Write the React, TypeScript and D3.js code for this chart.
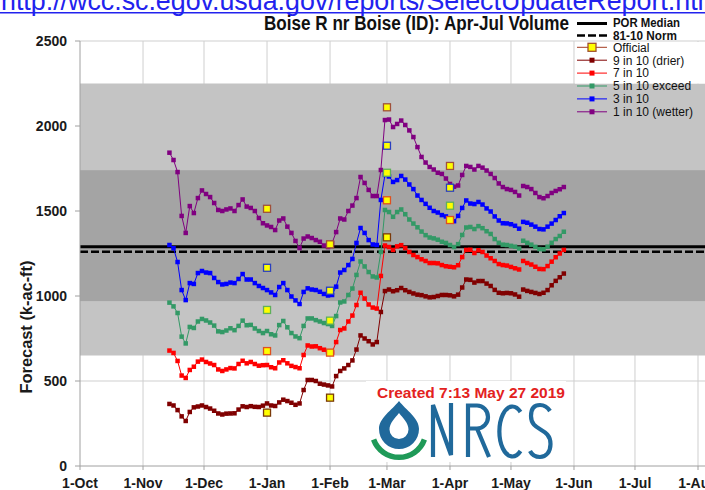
import React from "react"
import * as d3 from "d3"

const W = 705
const H = 490

// axis ticks
const yTicks = [0, 500, 1000, 1500, 2000, 2500]
const monthStarts = d3.timeMonth.range(new Date(2018, 9, 1), new Date(2019, 7, 2))

// shaded ranges and reference lines (k-ac-ft)
const outerBand = [650, 2250]
const innerBand = [970, 1740]
const porMedian = 1290
const norm8110 = 1260

const forecastDates = d3.timeDay.range(new Date(2018, 10, 14), new Date(2019, 4, 28), 2)
// the lines are broken between 5 and 7 May
const gapDate = new Date(2019, 4, 6)

const drier = [
  365, 356, 329, 292, 265, 318, 345, 350, 356, 347,
  338, 325, 309, 303, 308, 309, 310, 332, 351, 347,
  352, 348, 347, 355, 368, 356, 353, 374, 390, 382,
  372, 360, 368, 447, 506, 506, 500, 484, 479, 474,
  468, 529, 559, 574, 594, 621, 685, 768, 750, 734,
  715, 729, 906, 1029, 1038, 1028, 1034, 1047, 1034, 1024,
  1015, 1008, 1005, 998, 992, 994, 1000, 1006, 1006, 1004,
  998, 1008, 1050, 1097, 1095, 1079, 1088, 1088, 1073, 1059,
  1036, 1019, 1016, 1018, 1016, 1009, 996, 1038, 1030, 1024,
  1018, 1012, 1019, 1035, 1063, 1089, 1110, 1132,
]
const seven = [
  679, 665, 618, 532, 518, 565, 584, 614, 626, 612,
  603, 594, 568, 559, 568, 576, 574, 600, 619, 604,
  612, 600, 590, 593, 594, 581, 575, 609, 622, 604,
  589, 582, 575, 653, 709, 703, 704, 693, 684, 674,
  668, 729, 800, 809, 850, 885, 947, 1019, 985, 950,
  932, 926, 1118, 1297, 1288, 1271, 1292, 1299, 1282, 1259,
  1241, 1229, 1216, 1206, 1194, 1194, 1192, 1182, 1175, 1172,
  1169, 1181, 1229, 1271, 1272, 1253, 1269, 1259, 1238, 1222,
  1206, 1188, 1182, 1179, 1171, 1163, 1156, 1206, 1194, 1185,
  1172, 1159, 1158, 1176, 1202, 1228, 1250, 1271,
]
const five = [
  961, 939, 900, 761, 721, 818, 812, 850, 865, 856,
  844, 826, 792, 788, 797, 810, 799, 824, 855, 828,
  830, 809, 794, 782, 794, 775, 768, 829, 853, 816,
  782, 762, 752, 824, 868, 868, 858, 850, 841, 835,
  824, 882, 962, 968, 1006, 1044, 1124, 1203, 1174, 1141,
  1115, 1109, 1259, 1506, 1494, 1466, 1494, 1509, 1481, 1450,
  1426, 1404, 1379, 1358, 1344, 1339, 1331, 1319, 1312, 1300,
  1288, 1305, 1359, 1403, 1406, 1394, 1411, 1399, 1381, 1365,
  1335, 1313, 1302, 1300, 1295, 1290, 1279, 1325, 1313, 1302,
  1289, 1276, 1275, 1290, 1313, 1335, 1353, 1378,
]
const three = [
  1300, 1281, 1200, 1035, 976, 1076, 1071, 1135, 1147, 1138,
  1135, 1106, 1082, 1068, 1071, 1079, 1076, 1100, 1129, 1097,
  1097, 1076, 1059, 1047, 1035, 1021, 1006, 1053, 1076, 1035,
  997, 974, 953, 1024, 1045, 1038, 1035, 1025, 1012, 1003,
  1006, 1055, 1138, 1153, 1182, 1218, 1312, 1400, 1371, 1329,
  1303, 1300, 1565, 1712, 1703, 1671, 1682, 1706, 1685, 1656,
  1629, 1591, 1565, 1542, 1519, 1500, 1491, 1476, 1468, 1453,
  1440, 1471, 1518, 1562, 1544, 1541, 1553, 1538, 1515, 1497,
  1468, 1444, 1428, 1427, 1422, 1413, 1396, 1436, 1431, 1420,
  1408, 1394, 1392, 1408, 1426, 1447, 1469, 1488,
]
const wetter = [
  1843, 1800, 1729, 1471, 1371, 1529, 1488, 1576, 1621, 1600,
  1582, 1547, 1506, 1500, 1509, 1515, 1500, 1535, 1568, 1526,
  1518, 1500, 1459, 1428, 1415, 1406, 1388, 1444, 1456, 1408,
  1371, 1324, 1282, 1338, 1350, 1341, 1329, 1319, 1297, 1288,
  1312, 1376, 1456, 1450, 1500, 1532, 1576, 1700, 1665, 1624,
  1588, 1588, 1741, 2035, 2038, 1994, 2012, 2032, 2006, 1974,
  1935, 1876, 1818, 1785, 1759, 1744, 1725, 1718, 1691, 1659,
  1643, 1650, 1712, 1765, 1759, 1744, 1765, 1755, 1738, 1718,
  1694, 1662, 1641, 1629, 1624, 1612, 1591, 1647, 1641, 1629,
  1606, 1582, 1575, 1588, 1606, 1618, 1628, 1641,
]

// official (first of month) forecasts
const officialDates = [new Date(2019, 0, 1), new Date(2019, 1, 1), new Date(2019, 2, 1), new Date(2019, 3, 1)]
const officialDrier = [314, 402, 1345, null]
const officialSeven = [676, 667, 1563, 1447]
const officialFive = [918, 855, 1725, 1531]
const officialThree = [1166, 1031, 1884, 1637]
const officialWetter = [1513, 1304, 2110, 1765]

const series = [
  { name: "9 in 10 (drier)", color: "#800000", edge: "#7a3a0a", values: drier, official: officialDrier },
  { name: "7 in 10", color: "#ff0000", edge: "#e0501e", values: seven, official: officialSeven },
  { name: "5 in 10 exceed", color: "#339966", edge: "#5fb05a", values: five, official: officialFive },
  { name: "3 in 10", color: "#0000ff", edge: "#2a3fc0", values: three, official: officialThree },
  { name: "1 in 10 (wetter)", color: "#800080", edge: "#a0503a", values: wetter, official: officialWetter },
]

const narrow = "'Liberation Sans Narrow', 'Arial Narrow', 'Liberation Sans', Arial, sans-serif"
const sans = "'Liberation Sans', Arial, sans-serif"

type Pt = { d: Date; v: number }

export default function App() {
  const x = d3.scaleTime().domain([monthStarts[0], monthStarts[monthStarts.length - 1]]).range([80, 698])
  const y = d3.scaleLinear().domain([0, 2500]).range([466, 41])
  const left = 80
  const fmt = d3.timeFormat("%-d-%b")
  const line = d3.line<Pt>().x(p => x(p.d)).y(p => y(p.v))
  const m = 4.5 // marker size

  const legendY = (i: number) => 47.3 + i * 12.9
  const logo = "#20699b"

  return (
    <svg width={W} height={H} style={{ position: "absolute", left: 0, top: 0, background: "#fff" }}>
      <rect width={W} height={H} fill="#fff" />

      {/* report URL, cut off at the top */}
      <text x={1} y={10} fontFamily={sans} fontSize={26.8} fill="#2222ee">
        http://wcc.sc.egov.usda.gov/reports/SelectUpdateReport.html
      </text>
      <line x1={0} x2={W} y1={12.8} y2={12.8} stroke="#2222ee" strokeWidth={1.5} />

      {/* grid */}
      {monthStarts.slice(1).map((d, i) => (
        <line key={"gx" + i} x1={x(d)} x2={x(d)} y1={y(2500)} y2={y(0)} stroke="#cfcfcf" />
      ))}
      {yTicks.slice(1).map(t => (
        <line key={"gy" + t} x1={left} x2={W} y1={y(t)} y2={y(t)} stroke="#cfcfcf" />
      ))}

      {/* shaded ranges */}
      <rect x={left} width={W - left} y={y(outerBand[1])} height={y(outerBand[0]) - y(outerBand[1])} fill="#c4c4c4" />
      <rect x={left} width={W - left} y={y(innerBand[1])} height={y(innerBand[0]) - y(innerBand[1])} fill="#a4a4a4" />

      {/* legend backdrop above the bands */}
      <rect x={575} y={y(2500) + 1} width={W - 575} height={y(outerBand[1]) - y(2500) - 1} fill="#fff" />

      {/* median and normal */}
      <line x1={left} x2={W} y1={y(porMedian)} y2={y(porMedian)} stroke="#000" strokeWidth={3} />
      <line x1={left} x2={W} y1={y(norm8110)} y2={y(norm8110)} stroke="#000" strokeWidth={2.6} strokeDasharray="8,3" />

      {/* axes */}
      <line x1={left} x2={left} y1={y(2500)} y2={y(0)} stroke="#a0a0a0" />
      <line x1={left} x2={W} y1={y(0)} y2={y(0)} stroke="#a0a0a0" />
      {yTicks.map(t => (
        <g key={"yt" + t}>
          <line x1={left - 5} x2={left} y1={y(t)} y2={y(t)} stroke="#a0a0a0" />
          <text x={67} y={y(t) + 5} textAnchor="end" fontFamily={sans} fontWeight="bold" fontSize={14} fill="#1a1a1a">
            {t}
          </text>
        </g>
      ))}
      {monthStarts.map((d, i) => (
        <g key={"xt" + i}>
          <line x1={x(d)} x2={x(d)} y1={y(0)} y2={y(0) + 4} stroke="#a0a0a0" />
          <text x={x(d)} y={487.5} textAnchor="middle" fontFamily={sans} fontWeight="bold" fontSize={14} fill="#1a1a1a">
            {fmt(d)}
          </text>
        </g>
      ))}
      <text
        transform={`translate(32,327) rotate(-90)`}
        textAnchor="middle"
        fontFamily={narrow}
        fontWeight="bold"
        fontSize={16}
        textLength={133}
        lengthAdjust="spacingAndGlyphs"
        fill="#1a1a1a"
      >
        Forecast (k-ac-ft)
      </text>

      {/* NRCS logo panel */}
      <rect x={366} y={381} width={200} height={81} fill="#fff" />
      <text x={377} y={398} fontFamily={sans} fontWeight="bold" fontSize={15} textLength={188} lengthAdjust="spacingAndGlyphs" fill="#e3221e">
        Created 7:13 May 27 2019
      </text>
      <path
        d="M399,401 C392,410 379,418 379,429 A20,20 0 0 0 419,429 C419,418 406,410 399,401 Z M399,413 C395,418 389.5,423 389.5,429.5 A9.5,9.5 0 0 0 408.5,429.5 C408.5,423 403,418 399,413 Z"
        fill={logo}
        fillRule="evenodd"
      />
      <path d="M373.6,439.5 A27,27 0 0 0 424.4,439.5" fill="none" stroke="#1f9a58" strokeWidth={5.5} />
      <g fill="none" stroke={logo} strokeWidth={4.2}>
        <path d="M433,457 V405 L451,455 V403" />
        <path d="M468,457 V405.5 H477 A11,11.5 0 0 1 477,428.5 H468 M477,428.5 L489,457" />
        <path d="M520.5,412 A13,25 0 1 0 520.5,451" />
        <path d="M550,411 C547,406.5 543,405 540,405 C534,405 531,409 531,416 C531,432 550.5,427 550.5,444 C550.5,452 546,457 540,457 C535,457 532,455 530,451" />
      </g>

      {/* forecast series */}
      {series.map(s => {
        const pts: Pt[] = forecastDates.map((d, i) => ({ d, v: s.values[i] }))
        const segs = [pts.filter(p => p.d < gapDate), pts.filter(p => p.d > gapDate)]
        return (
          <g key={s.name}>
            {segs.map((seg, j) => (
              <path key={j} d={line(seg) || ""} fill="none" stroke={s.color} strokeWidth={1} />
            ))}
            {pts.map((p, i) => (
              <rect key={i} x={x(p.d) - m / 2} y={y(p.v) - m / 2} width={m} height={m} fill={s.color} />
            ))}
          </g>
        )
      })}

      {/* official forecasts */}
      {series.map(s =>
        officialDates.map((d, i) =>
          s.official[i] == null ? null : (
            <rect
              key={s.name + i}
              x={x(d) - 3.5}
              y={y(s.official[i] as number) - 3.5}
              width={7}
              height={7}
              fill="#ffff00"
              stroke={s.edge}
              strokeWidth={1.3}
            />
          )
        )
      )}

      {/* title */}
      <text x={264} y={30} fontFamily={narrow} fontWeight="bold" fontSize={20} textLength={305} lengthAdjust="spacingAndGlyphs" fill="#111">
        Boise R nr Boise (ID): Apr-Jul Volume
      </text>

      {/* legend */}
      <line x1={577} x2={607} y1={23.5} y2={23.5} stroke="#000" strokeWidth={3} />
      <text x={613} y={27} fontFamily={narrow} fontWeight="bold" fontSize={13} textLength={67} lengthAdjust="spacingAndGlyphs" fill="#111">
        POR Median
      </text>
      <line x1={577} x2={607} y1={35.5} y2={35.5} stroke="#000" strokeWidth={2.6} strokeDasharray="8,3" />
      <text x={613} y={40} fontFamily={narrow} fontWeight="bold" fontSize={13} textLength={64} lengthAdjust="spacingAndGlyphs" fill="#111">
        81-10 Norm
      </text>

      <line x1={577} x2={607} y1={legendY(0)} y2={legendY(0)} stroke="#a33b20" />
      <rect x={588} y={legendY(0) - 4} width={8} height={8} fill="#ffff00" stroke="#a0522d" strokeWidth={1.3} />
      <text x={613} y={legendY(0) + 4.3} fontFamily={sans} fontSize={12} fill="#111">
        Official
      </text>
      {series.map((s, i) => (
        <g key={"lg" + s.name}>
          <line x1={577} x2={607} y1={legendY(i + 1)} y2={legendY(i + 1)} stroke={s.color} />
          <rect x={589.5} y={legendY(i + 1) - 2.5} width={5} height={5} fill={s.color} />
          <text x={613} y={legendY(i + 1) + 4.3} fontFamily={sans} fontSize={12} fill="#111">
            {s.name}
          </text>
        </g>
      ))}
    </svg>
  )
}
